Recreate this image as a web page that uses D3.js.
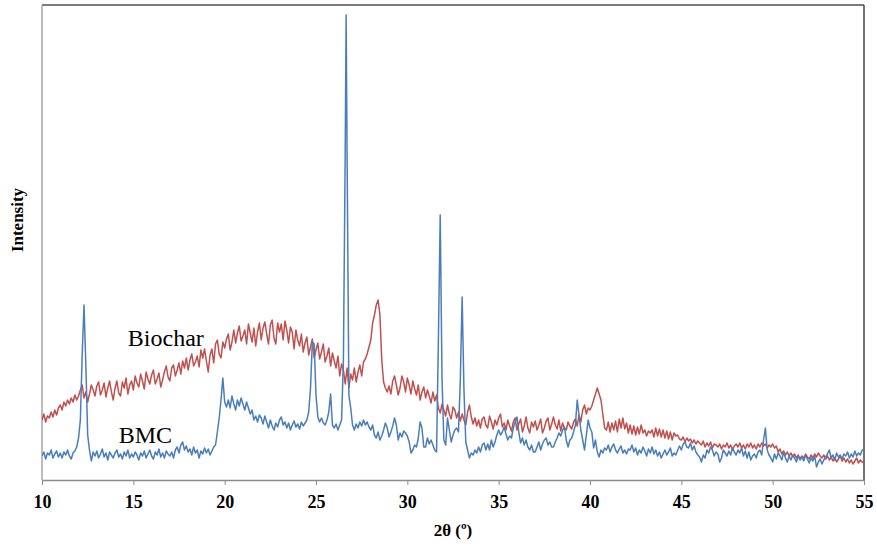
<!DOCTYPE html>
<html lang="en">
<head>
<meta charset="utf-8">
<title>XRD BMC and Biochar</title>
<script src="https://cdn.jsdelivr.net/npm/d3@7/dist/d3.min.js"></script>
<style>
  body { margin: 0; background: #fff; }
</style>
</head>
<body>
<div id="chart"></div>
<script>
// 2theta grid: 10 to 55 deg, 0.1 deg apart
var angleStart = 10
var angleStep = 0.1
var xTicks = [10, 15, 20, 25, 30, 35, 40, 45, 50, 55]

// BMC intensity (arbitrary units), one row per degree
var bmc = [
  24,28,21,27,25,30,22,26,29,23,
  27,22,28,25,30,24,21,27,29,33,
  42,60,125,175,115,45,30,19,28,24,
  29,22,26,31,23,27,20,28,25,22,
  27,30,23,26,21,28,24,30,22,26,
  23,28,25,20,27,24,29,22,26,30,
  24,21,28,25,31,23,27,22,29,26,
  24,28,22,30,33,27,35,38,30,34,
  28,31,25,33,27,30,22,29,26,32,
  27,31,25,29,33,35,48,62,80,102,
  78,73,80,72,84,76,70,80,74,82,
  76,70,78,72,66,70,60,64,58,65,
  62,56,64,58,52,60,54,50,57,53,
  60,63,55,58,52,57,50,55,59,53,
  56,51,58,54,57,60,68,92,138,136,
  85,63,58,62,57,55,60,68,86,55,
  52,56,50,55,60,120,330,330,85,72,
  55,50,56,52,58,54,60,55,58,53,
  50,55,45,42,48,40,44,50,57,52,
  43,48,54,62,55,40,47,43,49,47,
  44,38,27,30,35,33,42,58,52,33,
  33,42,36,40,35,30,28,140,265,100,
  40,35,62,50,38,45,50,52,48,100,
  183,90,38,30,22,27,25,30,27,33,
  28,35,37,30,36,30,40,33,38,45,
  50,45,48,53,46,40,44,42,52,58,
  63,48,37,42,35,40,33,30,35,28,
  28,33,38,30,36,40,42,35,38,33,
  33,38,42,47,44,50,53,40,33,40,
  42,48,55,80,65,50,40,30,45,60,
  52,48,32,40,28,23,30,27,32,30,
  35,28,33,36,30,27,31,34,27,30,
  26,31,30,35,28,32,25,30,27,33,
  29,24,31,27,33,26,30,24,28,22,
  26,30,25,28,32,24,27,25,30,34,
  30,36,38,33,32,37,30,34,28,25,
  23,18,25,22,30,27,33,30,24,28,
  26,18,22,30,27,24,29,25,32,28,
  25,30,27,32,24,29,22,28,20,24,
  26,22,28,30,25,40,52,30,25,22,
  18,26,21,27,24,20,28,22,18,24,
  20,25,22,18,24,20,23,19,25,21,
  17,22,19,24,13,18,21,16,20,23,
  26,30,22,25,20,27,23,25,21,26,
  24,28,22,26,23,29,24,27,25,30,
  30
]
// top of the sharp 26.65 deg reflection, between grid points
var bmcExtraAngles = [26.65]
var bmcExtraValues = [465]

// Biochar intensity (arbitrary units)
var biochar = [
  60,66,58,64,62,68,63,70,65,72,
  75,70,78,74,80,76,82,78,85,80,
  84,90,95,82,88,78,86,95,90,84,
  94,98,85,90,97,83,92,99,88,80,
  92,99,87,84,98,92,102,86,95,99,
  90,104,97,93,106,99,91,108,101,96,
  105,110,96,101,107,93,100,108,114,103,
  99,112,115,104,110,117,106,119,112,122,
  110,120,126,114,118,124,113,130,122,131,
  119,108,125,131,117,136,140,126,122,138,
  132,141,146,130,138,150,137,147,154,139,
  144,150,136,156,147,138,152,134,148,157,
  140,152,158,146,136,155,160,142,136,157,
  148,156,140,159,150,137,153,148,131,150,
  140,134,146,128,137,143,125,133,141,122,
  130,137,121,128,136,118,124,132,114,127,
  119,112,124,104,116,110,96,112,92,106,
  100,112,98,108,115,104,118,121,126,133,
  140,157,165,175,180,165,120,98,92,88,
  94,86,99,104,95,85,92,104,98,88,
  102,95,86,99,91,85,95,80,88,93,
  82,90,84,77,88,79,85,72,67,76,
  70,64,75,66,61,73,70,62,68,59,
  66,60,55,68,75,63,56,62,54,60,
  52,61,63,55,52,64,58,51,60,55,
  62,66,53,57,50,60,54,49,58,62,
  50,56,61,48,54,63,52,47,58,53,
  59,50,55,61,47,52,59,62,50,56,
  63,55,51,60,49,57,52,50,58,54,
  51,58,61,54,65,58,70,75,66,72,
  70,74,80,86,92,86,80,66,52,50,
  58,48,57,50,59,48,61,52,62,51,
  57,47,55,46,54,45,53,46,55,47,
  50,44,49,47,50,43,52,44,51,43,
  50,42,49,41,48,40,47,44,45,41,
  40,43,38,42,39,41,37,40,36,39,
  37,35,39,33,37,34,38,32,36,35,
  33,36,31,35,33,37,32,35,30,34,
  36,33,37,32,35,31,36,33,37,32,
  35,31,36,33,37,34,36,32,35,33,
  36,32,34,28,31,26,29,25,28,24,
  27,23,26,22,25,21,24,22,26,23,
  21,25,22,26,23,27,24,22,25,21,
  24,20,23,19,22,18,21,24,19,22,
  18,21,17,20,16,19,22,17,20,18,
  17
]

drawChart()

function drawChart() {
  var w = 877
  var h = 546
  var plotLeft = 42, plotRight = 864, plotTop = 5, plotBottom = 480

  var svg = d3.select("#chart")
    .append("svg")
    .attr("width", w)
    .attr("height", h)
    .style("font-family", "'Liberation Serif', 'Times New Roman', serif")

  var xScale = d3.scaleLinear().domain([10, 55]).range([plotLeft, plotRight])
  var yScale = d3.scaleLinear().domain([0, 475]).range([plotBottom, plotTop])

  function toPoints(values, extraAngles, extraValues) {
    var pts = values.map(function(v, i) {
      return [+(angleStart + i * angleStep).toFixed(2), v]
    })
    extraAngles.forEach(function(a, i) { pts.push([a, extraValues[i]]) })
    return pts.sort(function(a, b) { return a[0] - b[0] })
  }

  var line = d3.line()
    .x(function(d) { return xScale(d[0]) })
    .y(function(d) { return yScale(d[1]) })

  svg.append("clipPath").attr("id", "plot")
    .append("rect")
    .attr("x", plotLeft).attr("y", plotTop)
    .attr("width", plotRight - plotLeft).attr("height", plotBottom - plotTop)

  // frame
  svg.append("line").attr("x1", plotLeft).attr("x2", plotRight).attr("y1", plotTop).attr("y2", plotTop)
    .attr("stroke", "#7a7a7a").attr("stroke-width", 2)
  svg.append("line").attr("x1", plotRight).attr("x2", plotRight).attr("y1", plotTop).attr("y2", plotBottom)
    .attr("stroke", "#444").attr("stroke-width", 1.5)
  svg.append("line").attr("x1", plotLeft).attr("x2", plotLeft).attr("y1", plotTop).attr("y2", plotBottom)
    .attr("stroke", "#a6a6a6").attr("stroke-width", 1.5)

  var g = svg.append("g").attr("clip-path", "url(#plot)")

  g.append("path")
    .datum(toPoints(biochar, [], []))
    .attr("fill", "none")
    .attr("stroke", "#c0504d")
    .attr("stroke-width", 1.5)
    .attr("stroke-linejoin", "round")
    .attr("d", line)

  g.append("path")
    .datum(toPoints(bmc, bmcExtraAngles, bmcExtraValues))
    .attr("fill", "none")
    .attr("stroke", "#4a7ebb")
    .attr("stroke-width", 1.5)
    .attr("stroke-linejoin", "round")
    .attr("d", line)

  var xAxis = d3.axisBottom(xScale)
    .tickValues(xTicks)
    .tickSize(5)
    .tickSizeOuter(0)
    .tickPadding(10)

  var ax = svg.append("g")
    .attr("transform", "translate(0," + plotBottom + ")")
    .call(xAxis)
  ax.select(".domain").attr("stroke", "#8c8c8c").attr("stroke-width", 1.5)
  ax.selectAll(".tick line").attr("stroke", "#8c8c8c")
  ax.selectAll(".tick text")
    .attr("font-family", "'Liberation Serif', 'Times New Roman', serif")
    .attr("font-size", "18px")
    .attr("font-weight", "bold")
    .attr("fill", "#000")

  svg.append("text")
    .attr("x", (plotLeft + plotRight) / 2)
    .attr("y", 536)
    .attr("text-anchor", "middle")
    .attr("font-size", "17px")
    .attr("font-weight", "bold")
    .text("2θ (º)")

  svg.append("text")
    .attr("transform", "translate(23,220) rotate(-90)")
    .attr("text-anchor", "middle")
    .attr("font-size", "17px")
    .attr("font-weight", "bold")
    .text("Intensity")

  svg.append("text")
    .attr("x", xScale(14.7)).attr("y", 346)
    .attr("font-size", "24px")
    .text("Biochar")

  svg.append("text")
    .attr("x", xScale(14.2)).attr("y", 443)
    .attr("font-size", "24px")
    .text("BMC")
}
</script>
</body>
</html>
